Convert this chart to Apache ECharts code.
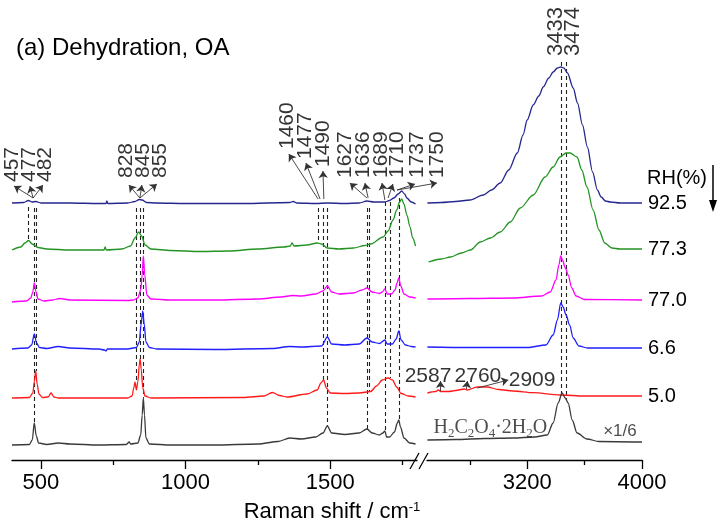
<!DOCTYPE html>
<html><head><meta charset="utf-8">
<script src="https://cdn.jsdelivr.net/npm/echarts@6/dist/echarts.min.js"></script>
<style>html,body{margin:0;padding:0;background:#fff}#c{width:720px;height:528px}</style>
</head><body><div id="c"></div>
<script>
// ---- tick values ----
const leftMajorTicks = [500, 1000, 1500];
const leftMinorTicks = [750, 1250, 1750];
const rightMajorTicks = [3200, 4000];
const rightMinorTicks = [2800, 3600];
const rhLabels = ['92.5', '77.3', '77.0', '6.6', '5.0'];

// ---- spectra (wavenumber, stacked intensity) : low-wavenumber region ----
const rh925Low = [[400,257],[440,257.5],[457,259.5],[470,258],[482,258.5],[500,257],[600,257],[700,256.5],[725,256.5],[728,259],[731,256.5],[800,257],[825,258.5],[840,260.5],[850,260],[865,257.5],[900,257],[1000,256.5],[1200,256.5],[1360,257.5],[1372,258.5],[1385,257],[1450,256.5],[1490,257],[1550,256.5],[1600,257],[1627,259],[1650,258],[1689,258],[1705,259.5],[1720,262],[1735,266],[1747,269],[1757,266],[1765,262],[1780,258],[1795,256]];
const rh773Low = [[400,210],[430,213],[445,217],[457,219.5],[470,216],[490,212.5],[520,211],[600,210],[718,210],[722,213],[726,210],[780,211],[810,214],[825,222],[838,228],[848,224],[860,215],[880,211],[950,209.5],[1050,208.5],[1150,209],[1250,211],[1340,213],[1362,214],[1368,217],[1375,214],[1420,215],[1455,217],[1470,216],[1490,212],[1530,211],[1580,212],[1620,214.5],[1640,216],[1683,223],[1700,229],[1717,240],[1730,250],[1740,258],[1747,261],[1755,256],[1765,245],[1776,233],[1785,222],[1795,214]];
const rh770Low = [[400,158],[450,159],[465,162],[472,168],[477,177],[483,168],[490,161],[510,159],[540,160],[565,161.5],[600,160],[800,159.5],[820,160],[835,162],[845,170],[850,185],[854,204],[859,185],[866,165],[880,161],[950,160],[1100,160],[1250,161],[1330,163],[1370,164.5],[1400,164],[1450,166],[1475,169],[1490,174],[1505,168],[1530,166],[1580,167],[1610,170],[1627,172],[1645,168],[1670,166.5],[1680,168],[1689,171],[1697,166],[1712,166],[1724,170],[1731,177],[1737,182],[1744,174],[1755,166],[1775,163],[1795,162]];
const rh66Low = [[400,111],[455,112],[468,115],[477,126],[485,117],[495,112.5],[520,111.5],[560,113.5],[600,112],[700,111],[720,110],[725,109],[730,111],[800,111],[830,112.5],[840,118],[846,135],[852,149],[857,136],[863,118],[875,112.5],[900,111],[1100,110.5],[1300,111.5],[1360,113.5],[1400,113],[1470,114],[1490,123],[1505,116],[1550,115],[1600,116],[1627,122],[1645,118],[1670,116.5],[1689,120],[1697,116],[1715,116],[1728,121],[1737,129],[1745,120],[1760,115],[1780,113.5],[1795,113]];
const rh50Low = [[400,62],[460,62.5],[472,67],[477,78],[482,89],[487,76],[493,66],[505,62.5],[525,63],[535,67],[545,63],[560,62],[800,62],[815,64],[821,72],[825,78],[830,70],[835,78],[840,95],[843,101],[847,90],[852,72],[860,64],[880,62],[1200,62.5],[1270,64],[1300,67.5],[1325,64.5],[1350,63],[1420,66],[1455,70],[1468,77],[1477,80],[1487,72],[1500,67],[1550,66.5],[1600,67],[1640,68.5],[1660,74],[1680,80],[1700,82],[1715,80],[1730,73],[1745,66.5],[1770,64],[1795,63]];
const oxalicLow = [[400,15],[460,15.5],[470,20],[477,37],[484,24],[492,17],[520,15.5],[560,17],[600,16],[700,15],[795,15.5],[805,18],[810,16],[835,17],[845,25],[850,45],[854,62],[858,45],[863,22],[875,16],[950,15],[1100,15],[1250,16],[1320,18.5],[1360,22],[1400,21],[1450,23],[1475,27],[1490,34],[1505,27],[1550,25.5],[1600,27],[1627,31],[1645,27],[1670,25],[1682,27],[1689,29],[1695,23],[1705,23],[1722,28],[1732,37],[1737,40],[1743,33],[1755,22],[1775,17],[1795,16]];

// ---- spectra : O-H stretching region ----
const rh925High = [[2503,257],[2600,257.5],[2700,258.5],[2800,260],[2893,265],[2950,270],[3011,277],[3070,290],[3130,307],[3170,325],[3199,340],[3241,355],[3280,364],[3311,373],[3350,382],[3380,388],[3410,392],[3433,393],[3455,392],[3480,387],[3520,372],[3550,357],[3585,335],[3619,313],[3655,288],[3689,270],[3715,263],[3745,259],[3780,258],[3850,257],[4000,257]];
const rh773High = [[2510,198],[2600,201],[2664,203],[2740,207],[2803,210],[2872,218],[2942,222],[3011,228],[3081,238],[3151,252],[3241,265],[3324,283],[3380,293],[3428,303],[3470,307],[3498,307],[3547,303],[3580,290],[3616,273],[3659,250],[3700,230],[3740,217],[3790,212],[3846,211],[4000,211]];
const rh770High = [[2503,161],[2800,161.5],[3100,162],[3300,164],[3360,168],[3400,180],[3420,195],[3433,204],[3445,200],[3465,192],[3485,185],[3510,172],[3540,164],[3600,160.5],[4000,160]];
const rh66High = [[2503,113],[2800,112.5],[3200,112.5],[3330,115],[3380,125],[3410,140],[3433,157],[3450,153],[3470,145],[3495,135],[3520,122],[3560,114],[3620,112],[4000,112]];
const rh50High = [[2503,67],[2560,68.5],[2580,70],[2595,68.5],[2650,68.5],[2700,69.5],[2760,71],[2780,70],[2850,73],[2920,73],[3000,70.5],[3100,69],[3241,67.3],[3430,65],[3600,64],[4000,64]];
const oxalicHigh = [[2503,20],[2700,20.5],[2900,21.5],[3100,22],[3250,23],[3339,25],[3380,37],[3415,57],[3443,67],[3464,62],[3485,57],[3513,40],[3547,27],[3616,21],[3700,18.5],[4000,18]];

// ---- peak annotations ----
const peakLabelsLow = [['457',400,278],['477',459,278],['482',514,278],['828',794,282],['845',853,282],['855',912,282],['1460',1351,311],['1477',1413,301],['1490',1475,293],['1627',1551,282],['1636',1613,282],['1689',1676,282],['1710',1731,282],['1737',1800,282],['1750',1869,282]];
const peakArrowsLow = [[473,262,407,274],[473,262,462,274],[473,262,507,275],[842,262,804,275],[842,262,849,275],[842,262,901,276],[1458,261,1357,306],[1465,261,1416,297],[1478,261,1475,289],[1627,262,1568,277],[1631,262,1620,277],[1689,260,1679,277],[1700,262,1717,276],[1731,270,1793,276],[1731,270,1869,277]];
const dashLinesLow = [[457,253,218],[476,252,37],[484,252,89],[828,252,78],[845,252,101],[855,252,62],[1458,252,217],[1477,252,80],[1490,252,34],[1627,252,31],[1636,252,68],[1689,258,29],[1707,258,82],[1737,262,40]];
const peakLabelsHigh = [['3433',3400,404],['3474',3519,404]];
const dashLinesHigh = [[3436,398,66],[3469,398,60]];
const textLabelsHigh = [['2587',2507,84],['2760',2855,84],['2909',3233,80]];
const peakArrowsHigh = [[2594,69,2594,79],[2775,71,2782,79],[2851,72,3067,80]];

const FONT = "'Liberation Sans', Arial, sans-serif";
const colors = ['#26268f', '#239423', '#ff00ff', '#1f1fff', '#ff1a1a', '#3a3a3a'];
const lowSets = [rh925Low, rh773Low, rh770Low, rh66Low, rh50Low, oxalicLow];
const highSets = [rh925High, rh773High, rh770High, rh66High, rh50High, oxalicHigh];

const chart = echarts.init(document.getElementById('c'), null, {renderer: 'canvas'});
const series = [];
lowSets.forEach((d, i) => series.push({
  type: 'line', xAxisIndex: 0, yAxisIndex: 0, data: d, symbol: 'none', smooth: 0.3, smoothMonotone: 'x',
  lineStyle: {color: colors[i], width: 1.3}, silent: true, animation: false, clip: false, z: 3
}));
highSets.forEach((d, i) => series.push({
  type: 'line', xAxisIndex: 2, yAxisIndex: 1, data: d, symbol: 'none', smooth: 0.3, smoothMonotone: 'x',
  lineStyle: {color: colors[i], width: 1.3}, silent: true, animation: false, clip: false, z: 3,
  endLabel: i < 5 ? {show: true, formatter: rhLabels[i], fontSize: 20, color: '#000', fontFamily: FONT, distance: 6} : {show: false}
}));
// dashed guide lines
series.push({type: 'lines', coordinateSystem: 'cartesian2d', xAxisIndex: 0, yAxisIndex: 0, clip: false, silent: true, animation: false, z: 2,
  lineStyle: {color: '#222', width: 1.1, type: [4, 3], opacity: 1},
  data: dashLinesLow.map(l => ({coords: [[l[0], l[1]], [l[0], l[2]]]}))});
series.push({type: 'lines', coordinateSystem: 'cartesian2d', xAxisIndex: 2, yAxisIndex: 1, clip: false, silent: true, animation: false, z: 2,
  lineStyle: {color: '#222', width: 1.1, type: [4, 3], opacity: 1},
  data: dashLinesHigh.map(l => ({coords: [[l[0], l[1]], [l[0], l[2]]]}))});
// arrows
series.push({type: 'lines', coordinateSystem: 'cartesian2d', xAxisIndex: 0, yAxisIndex: 0, clip: false, silent: true, animation: false, z: 4,
  symbol: ['none', 'arrow'], symbolSize: 7, lineStyle: {color: '#333', width: 0.9, opacity: 1},
  data: peakArrowsLow.map(a => ({coords: [[a[0], a[1]], [a[2], a[3]]]}))});
series.push({type: 'lines', coordinateSystem: 'cartesian2d', xAxisIndex: 2, yAxisIndex: 1, clip: false, silent: true, animation: false, z: 4,
  symbol: ['none', 'arrow'], symbolSize: 7, lineStyle: {color: '#333', width: 0.9, opacity: 1},
  data: peakArrowsHigh.map(a => ({coords: [[a[0], a[1]], [a[2], a[3]]]}))});
// rotated peak labels
const rotLabel = {show: true, formatter: '{b}', rotate: 90, position: 'inside', align: 'left', verticalAlign: 'middle', fontSize: 21, color: '#000', fontFamily: FONT};
series.push({type: 'scatter', xAxisIndex: 0, yAxisIndex: 0, symbolSize: 0, clip: false, silent: true, animation: false, label: rotLabel,
  data: peakLabelsLow.map(p => ({name: p[0], value: [p[1], p[2]]}))});
series.push({type: 'scatter', xAxisIndex: 2, yAxisIndex: 1, symbolSize: 0, clip: false, silent: true, animation: false, label: Object.assign({}, rotLabel, {fontSize: 22}),
  data: peakLabelsHigh.map(p => ({name: p[0], value: [p[1], p[2]]}))});
series.push({type: 'scatter', xAxisIndex: 2, yAxisIndex: 1, symbolSize: 0, clip: false, silent: true, animation: false,
  label: {show: true, formatter: '{b}', position: 'inside', fontSize: 21, color: '#000', fontFamily: FONT},
  data: textLabelsHigh.map(p => ({name: p[0], value: [p[1], p[2]]}))});
series.push({type: 'scatter', xAxisIndex: 2, yAxisIndex: 1, symbolSize: 0, clip: false, silent: true, animation: false,
  data: [
    {value: [2942, 32], label: {show: true, position: 'inside', formatter: '{n|H}{s|2}{n|C}{s|2}{n|O}{s|4}{n|·2H}{s|2}{n|O}',
      rich: {n: {fontSize: 20, fontFamily: "'Liberation Serif', 'Times New Roman', serif", color: '#222', lineHeight: 24, verticalAlign: 'middle'},
             s: {fontSize: 13, fontFamily: "'Liberation Serif', 'Times New Roman', serif", color: '#222', lineHeight: 24, verticalAlign: 'bottom', padding: [0, 0, 0, 0]}}}},
    {value: [3846, 29], label: {show: true, position: 'inside', formatter: '×1/6', fontSize: 17, color: '#222', fontFamily: FONT}}
  ]});

const axisLineStyle = {color: '#000', width: 1.3};
const plain = v => String(v);
chart.setOption({
  backgroundColor: '#fff',
  animation: false,
  title: {text: '(a) Dehydration, OA', left: 11, top: 31, textStyle: {fontSize: 24, fontWeight: 'normal', color: '#000', fontFamily: FONT}},
  grid: [
    {left: 12, width: 405, top: 20, bottom: 68},
    {left: 427, width: 215, top: 20, bottom: 68}
  ],
  xAxis: [
    {type: 'value', gridIndex: 0, min: 400, max: 1800, position: 'bottom', splitLine: {show: false},
     axisLine: {lineStyle: axisLineStyle}, axisTick: {customValues: leftMajorTicks, length: 9, inside: false, lineStyle: axisLineStyle},
     axisLabel: {customValues: leftMajorTicks, formatter: plain, fontSize: 22, color: '#000', fontFamily: FONT, margin: 12}},
    {type: 'value', gridIndex: 0, min: 400, max: 1800, position: 'bottom', splitLine: {show: false},
     axisLine: {show: false}, axisTick: {customValues: leftMinorTicks, length: 5, lineStyle: axisLineStyle}, axisLabel: {show: false}},
    {type: 'value', gridIndex: 1, min: 2500, max: 4000, position: 'bottom', splitLine: {show: false},
     axisLine: {lineStyle: axisLineStyle}, axisTick: {customValues: rightMajorTicks, length: 9, lineStyle: axisLineStyle},
     axisLabel: {customValues: rightMajorTicks, formatter: plain, fontSize: 22, color: '#000', fontFamily: FONT, margin: 12}},
    {type: 'value', gridIndex: 1, min: 2500, max: 4000, position: 'bottom', splitLine: {show: false},
     axisLine: {show: false}, axisTick: {customValues: rightMinorTicks, length: 5, lineStyle: axisLineStyle}, axisLabel: {show: false}}
  ],
  yAxis: [
    {type: 'value', gridIndex: 0, min: 0, max: 440, show: false},
    {type: 'value', gridIndex: 1, min: 0, max: 440, show: false}
  ],
  graphic: [
    {type: 'line', shape: {x1: 410, y1: 469, x2: 419, y2: 453}, style: {stroke: '#000', lineWidth: 1.3}},
    {type: 'line', shape: {x1: 419, y1: 469, x2: 428, y2: 453}, style: {stroke: '#000', lineWidth: 1.3}},
    {type: 'text', left: 647, top: 168, style: {text: 'RH(%)', font: "20px 'Liberation Sans', Arial, sans-serif", fill: '#000'}},
    {type: 'line', shape: {x1: 713, y1: 165, x2: 713, y2: 203}, style: {stroke: '#000', lineWidth: 1.5}},
    {type: 'polygon', shape: {points: [[709, 200], [717, 200], [713, 212]]}, style: {fill: '#000'}},
    {type: 'text', x: 332, y: 512, style: {text: 'Raman shift / cm{s|-1}', align: 'center', verticalAlign: 'middle',
      font: "22px 'Liberation Sans', Arial, sans-serif", fill: '#000',
      rich: {s: {fontSize: 13, verticalAlign: 'top', fill: '#000', fontFamily: FONT}}}}
  ],
  series
});
</script></body></html>
